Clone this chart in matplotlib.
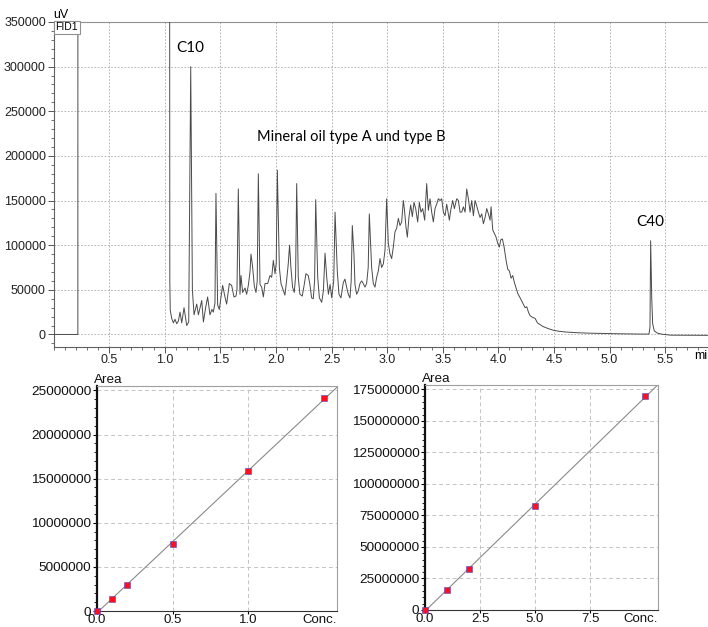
import numpy as np
import matplotlib
matplotlib.use('Agg')
import matplotlib.pyplot as plt
from matplotlib.ticker import MultipleLocator

plt.rcParams['font.family'] = ['Liberation Sans', 'DejaVu Sans']

# values
OFF = 2000000  # solvent peak, far above the y range

# chromatogram: (retention time in min, FID signal in uV)
trace_solvent = [
    (0.000, 0), (0.219, 0), (0.221, OFF), (1.038, OFF), (1.046, 60000),
    (1.050, 27000), (1.063, 18000), (1.078, 13000), (1.093, 17000),
    (1.108, 12000), (1.123, 15000), (1.138, 25000), (1.153, 13000),
    (1.174, 30000), (1.198, 10000), (1.216, 14000),
]
trace_c10_c20 = [
    (1.234, 300000), (1.249, 50000), (1.264, 22000), (1.288, 34000),
    (1.303, 22000), (1.333, 38000), (1.348, 14000), (1.368, 30000),
    (1.386, 42000), (1.407, 22000), (1.425, 28000), (1.437, 25000),
    (1.452, 35000), (1.461, 158000), (1.476, 33000), (1.491, 28000),
    (1.521, 55000), (1.542, 42000), (1.557, 34000), (1.581, 57000),
    (1.602, 55000), (1.623, 42000), (1.641, 43000), (1.650, 50000),
    (1.662, 163000), (1.677, 45000), (1.686, 66000), (1.701, 47000),
    (1.722, 52000), (1.737, 45000), (1.752, 55000), (1.767, 70000),
    (1.776, 90000), (1.791, 75000), (1.806, 54000), (1.821, 47000),
    (1.832, 60000), (1.842, 180000), (1.857, 56000), (1.872, 53000),
    (1.887, 42000), (1.902, 57000), (1.926, 57000), (1.947, 66000),
    (1.962, 64000), (1.977, 83000), (1.992, 68000), (2.003, 80000),
    (2.013, 184000), (2.031, 75000), (2.046, 57000), (2.067, 49000),
    (2.081, 44000), (2.096, 60000), (2.111, 79000), (2.123, 100000),
    (2.135, 75000), (2.150, 53000), (2.165, 47000), (2.177, 65000),
    (2.187, 169000), (2.201, 64000), (2.216, 45000), (2.237, 43000),
    (2.255, 56000), (2.270, 68000), (2.291, 66000), (2.306, 56000),
    (2.321, 41000), (2.336, 40000), (2.348, 60000), (2.358, 151000),
    (2.376, 64000), (2.391, 41000), (2.412, 36000), (2.427, 49000),
    (2.442, 91000), (2.457, 64000), (2.472, 45000), (2.487, 56000),
    (2.502, 41000), (2.520, 60000), (2.532, 137000), (2.552, 71000),
    (2.567, 45000), (2.585, 41000), (2.606, 58000), (2.621, 62000),
    (2.636, 53000), (2.651, 45000), (2.666, 41000), (2.677, 60000),
    (2.687, 122000), (2.702, 90000), (2.711, 56000), (2.726, 45000),
    (2.741, 49000), (2.756, 57000), (2.771, 60000), (2.786, 57000),
    (2.801, 53000), (2.816, 57000), (2.830, 75000), (2.840, 135000),
    (2.861, 75000), (2.876, 57000), (2.891, 53000), (2.906, 64000),
    (2.921, 71000), (2.936, 85000), (2.951, 75000), (2.966, 79000),
    (2.981, 94000), (2.996, 152000),
]
trace_hump = [
    (3.011, 102000), (3.026, 90000), (3.041, 85000), (3.056, 98000),
    (3.071, 115000), (3.086, 119000), (3.101, 130000), (3.116, 122000),
    (3.131, 126000), (3.146, 150000), (3.155, 141000), (3.170, 120000),
    (3.182, 109000), (3.197, 132000), (3.212, 145000), (3.227, 132000),
    (3.242, 148000), (3.257, 141000), (3.275, 126000), (3.290, 148000),
    (3.305, 137000), (3.320, 141000), (3.338, 128000), (3.356, 169000),
    (3.371, 139000), (3.386, 152000), (3.401, 137000), (3.416, 126000),
    (3.431, 141000), (3.446, 146000), (3.461, 152000), (3.476, 150000),
    (3.491, 152000), (3.506, 137000), (3.521, 133000), (3.536, 146000),
    (3.560, 128000), (3.572, 139000), (3.590, 150000), (3.605, 141000),
    (3.626, 152000), (3.641, 150000), (3.656, 137000), (3.671, 137000),
    (3.686, 143000), (3.701, 137000), (3.716, 163000), (3.731, 152000),
    (3.746, 137000), (3.761, 150000), (3.776, 133000), (3.791, 150000),
    (3.806, 144000), (3.821, 137000), (3.836, 131000), (3.851, 135000),
    (3.866, 124000), (3.881, 131000), (3.896, 141000), (3.911, 135000),
    (3.926, 128000), (3.935, 143000), (3.950, 117000), (3.965, 113000),
    (3.980, 109000), (3.995, 102000), (4.010, 98000), (4.022, 106000),
    (4.037, 107000), (4.052, 98000), (4.070, 83000), (4.085, 73000),
    (4.100, 71000), (4.115, 63000), (4.130, 66000), (4.145, 58000),
    (4.160, 52000), (4.175, 46000), (4.196, 41000), (4.220, 35000),
    (4.241, 30000), (4.256, 31000), (4.271, 25000), (4.286, 21000),
    (4.310, 19000), (4.331, 18000), (4.352, 13000), (4.376, 11000),
]
trace_tail = [
    (4.40, 9000), (4.45, 6500), (4.50, 4500), (4.55, 3500), (4.60, 2800),
    (4.70, 2000), (4.80, 1500), (4.90, 1200), (5.00, 900), (5.10, 700),
    (5.20, 500), (5.30, 400), (5.355, 500), (5.364, 8000), (5.370, 105000),
    (5.380, 40000), (5.388, 12000), (5.403, 4000), (5.43, 1500),
    (5.47, 300), (5.55, -800), (5.90, -1000),
]

# calibration curves: concentration vs. peak area
cal1_conc = [0.0, 0.1, 0.2, 0.5, 1.0, 1.5]
cal1_area = [50000, 1350000, 2900000, 7600000, 15900000, 24100000]
cal2_conc = [0.0, 1.0, 2.0, 5.0, 10.0]
cal2_area = [200000, 16000000, 32500000, 82800000, 169500000]

W, H = 708, 627
fig = plt.figure(figsize=(W / 100, H / 100), dpi=100)
note_font = 'Lato'


def px(x0, y0, x1, y1):
    # pixel box -> figure fraction [left, bottom, width, height]
    return [x0 / W, 1 - y1 / H, (x1 - x0) / W, (y1 - y0) / H]


# ---- chromatogram ----
ax = fig.add_axes(px(53.5, 22, 708, 346.5))
pts = trace_solvent + trace_c10_c20 + trace_hump + trace_tail
rt = [p[0] for p in pts]
sig = [p[1] for p in pts]
ax.plot(rt, sig, color='#4a4a4a', lw=0.7, zorder=3)

ax.set_xlim(0, (708 - 53.5) / 111.2)
ax.set_ylim(-13500, 350000)
ax.set_xticks([0.5, 1.0, 1.5, 2.0, 2.5, 3.0, 3.5, 4.0, 4.5, 5.0, 5.5])
ax.xaxis.set_minor_locator(MultipleLocator(0.1))
yt = list(range(0, 350001, 50000))
ax.set_yticks(yt)
ax.set_yticklabels([str(v) for v in yt])
ax.yaxis.set_minor_locator(MultipleLocator(10000))
ax.grid(True, which='major', linestyle=(0, (2, 2)), color='#a8a8a8', lw=0.6)
ax.set_axisbelow(True)
ax.tick_params(which='major', length=4, width=0.7, color='#555555', pad=1.5,
               labelsize=9, labelcolor='#222222')
ax.tick_params(which='minor', length=2, width=0.6, color='#555555')
ax.spines['right'].set_visible(False)
ax.spines['top'].set_color('#909090')
ax.spines['left'].set_color('#606060')
ax.spines['bottom'].set_color('#606060')
for s in ax.spines.values():
    s.set_linewidth(0.8)

ax.text(1.232, 321000, 'C10', ha='center', va='center', fontsize=11, family=note_font)
ax.text(5.364, 126000, 'C40', ha='center', va='center', fontsize=11, family=note_font)
ax.text(2.675, 221000, 'Mineral oil type A und type B', ha='center', va='center',
        fontsize=10.5, family=note_font)

fig.text(61 / W, 1 - 15 / H, 'uV', ha='center', va='center', fontsize=9)
fig.text(55.5 / W, 1 - 27.5 / H, 'FID1', ha='left', va='center', fontsize=7.5,
         bbox=dict(boxstyle='square,pad=0.15', fc='white', ec='#909090', lw=0.8))
fig.text(694 / W, 1 - 356 / H, 'min', ha='left', va='center', fontsize=9)


# ---- calibration curves ----
def calib(box, conc, area, xmax, ymax, xt, xlabels, yt_step, ymin_step, conc_px):
    a = fig.add_axes(px(*box))
    k, b = np.polyfit(conc, area, 1)
    xs = np.array([0, xmax * 1.05])
    a.plot(xs, k * xs + b, color='#8a8a8a', lw=0.8, zorder=2)
    a.plot(conc, area, 's', ms=4, mfc='#ff1020', mec='#4848c8', mew=0.4,
           zorder=4, clip_on=False)
    a.set_xlim(0, xmax)
    a.set_ylim(0, ymax)
    a.set_xticks(xt)
    a.set_xticklabels(xlabels)
    ticks = np.arange(0, ymax, yt_step)
    a.set_yticks(ticks)
    a.set_yticklabels([str(int(v)) for v in ticks])
    a.yaxis.set_minor_locator(MultipleLocator(ymin_step))
    a.grid(True, which='major', linestyle=(0, (4, 3)), color='#c4c4c4', lw=0.7)
    a.set_axisbelow(True)
    a.tick_params(which='major', length=3, width=0.8, pad=1.0, labelsize=9.7,
                  labelcolor='#111111')
    a.tick_params(axis='x', which='major', length=2, pad=0.5, labelsize=9.5)
    a.tick_params(which='minor', length=2, width=0.6)
    a.spines['left'].set_linewidth(1.6)
    a.spines['left'].set_color('#111111')
    a.spines['bottom'].set_color('#333333')
    a.spines['top'].set_color('#a0a0a0')
    a.spines['right'].set_color('#a0a0a0')
    fig.text(conc_px[0] / W, 1 - conc_px[1] / H, 'Conc.', ha='right', va='center',
             fontsize=9.5, color='#111111')
    fig.text((box[0] - 3) / W, 1 - (box[1] - 6) / H, 'Area', ha='left', va='center',
             fontsize=9.7, color='#111111')
    return a


calib((96.7, 386, 336.7, 611), cal1_conc, cal1_area, 1.583, 25.5e6,
      [0.0, 0.5, 1.0], ['0.0', '0.5', '1.0'], 5e6, 1e6, (337, 620))
calib((425, 385, 658.3, 610), cal2_conc, cal2_area, 10.6, 178.5e6,
      [0.0, 2.5, 5.0, 7.5], ['0.0', '2.5', '5.0', '7.5'], 25e6, 5e6, (658, 619))

fig.savefig('out.png', dpi=100)
